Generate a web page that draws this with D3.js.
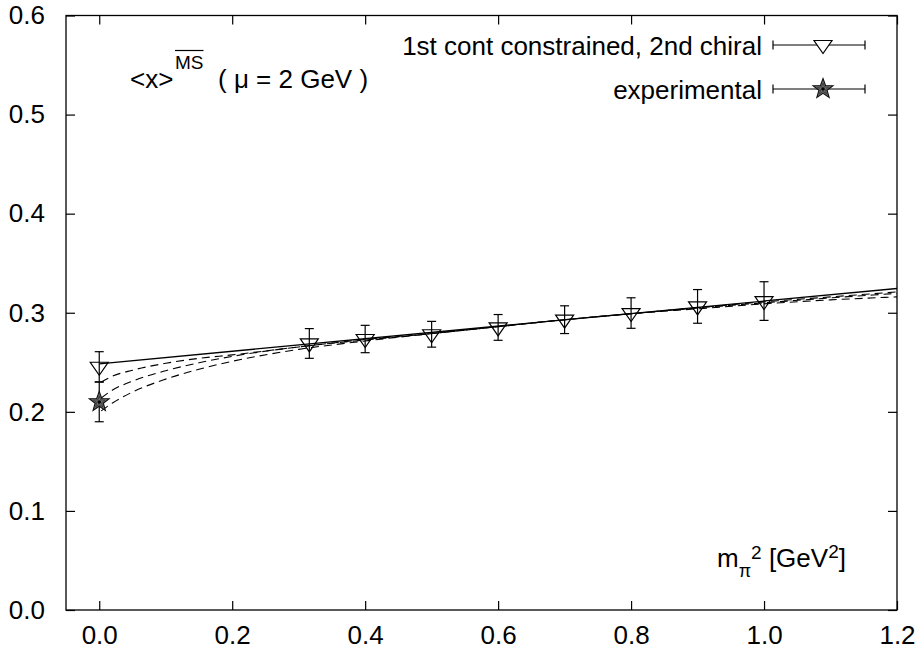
<!DOCTYPE html>
<html><head><meta charset="utf-8">
<script src="https://cdn.jsdelivr.net/npm/d3@7"></script>
<style>
body{margin:0;background:#fff;}
svg{display:block;font-family:"Liberation Sans",Arial,Helvetica,sans-serif;}
</style></head>
<body><svg id="c" width="919" height="650"></svg>
<script>
// ---- data ----
const xTicks = [0.0, 0.2, 0.4, 0.6, 0.8, 1.0, 1.2];
const yTicks = [0.0, 0.1, 0.2, 0.3, 0.4, 0.5, 0.6];
const latticeX   = [0.0, 0.316, 0.4, 0.5, 0.6, 0.7, 0.8, 0.9, 1.0];
const latticeY   = [0.2455, 0.269, 0.2735, 0.2783, 0.2852, 0.293, 0.2997, 0.3064, 0.3118];
const latticeErr = [0.0152, 0.015, 0.0138, 0.013, 0.013, 0.014, 0.0154, 0.017, 0.0195];
const expX = [0.0];
const expY = [0.210];
const expErr = [0.020];
const fitSolid = [[0.0, 0.2485], [1.2, 0.3245]];
const fitDash1 = [[0.003,0.230],[0.02,0.236],[0.05,0.242],[0.1,0.249],[0.15,0.254],[0.2,0.2575],[0.3,0.2655],[0.4,0.273],[0.5,0.279],[0.6,0.286],[0.7,0.293],[0.8,0.299],[0.9,0.305],[1.0,0.311],[1.1,0.316],[1.2,0.321]];
const fitDash2 = [[0.003,0.214],[0.02,0.222],[0.05,0.231],[0.1,0.2415],[0.15,0.2495],[0.2,0.256],[0.3,0.2655],[0.4,0.2725],[0.5,0.279],[0.6,0.286],[0.7,0.293],[0.8,0.299],[0.9,0.305],[1.0,0.310],[1.1,0.315],[1.2,0.3195]];
const fitDash3 = [[0.003,0.201],[0.02,0.209],[0.05,0.220],[0.1,0.233],[0.15,0.243],[0.2,0.251],[0.3,0.263],[0.4,0.2715],[0.5,0.279],[0.6,0.286],[0.7,0.293],[0.8,0.299],[0.9,0.304],[1.0,0.309],[1.1,0.313],[1.2,0.316]];
const legendLabels = ["1st cont constrained, 2nd chiral", "experimental"];

// ---- layout ----
const L = 66, R = 897, T = 15.5, B = 610;
const svg = d3.select("#c");
const x = d3.scaleLinear().domain([-0.05, 1.2]).range([L, R]);
const y = d3.scaleLinear().domain([0, 0.6]).range([B, T]);
const FS = 26;
const tickLen = 9;

// frame
svg.append("rect").attr("x", L).attr("y", T).attr("width", R - L).attr("height", B - T)
  .attr("fill", "none").attr("stroke", "#000").attr("stroke-width", 1.3);

// axes (inward ticks, mirrored)
const axB = d3.axisBottom(x).tickValues(xTicks).tickSizeInner(-tickLen).tickSizeOuter(0).tickFormat(d3.format(".1f")).tickPadding(16);
const axT = d3.axisTop(x).tickValues(xTicks).tickSizeInner(-tickLen).tickSizeOuter(0).tickFormat("");
const axL = d3.axisLeft(y).tickValues(yTicks).tickSizeInner(-tickLen).tickSizeOuter(0).tickFormat(d3.format(".1f")).tickPadding(21);
const axR = d3.axisRight(y).tickValues(yTicks).tickSizeInner(-tickLen).tickSizeOuter(0).tickFormat("");
function style(g){ g.select(".domain").remove(); g.selectAll("line").attr("stroke","#000").attr("stroke-width",1.2);
  g.selectAll("text").attr("font-size", FS).attr("fill","#000").attr("font-family","Liberation Sans, Arial, sans-serif"); }
svg.append("g").attr("transform", `translate(0,${B})`).call(axB).call(style);
svg.append("g").attr("transform", `translate(0,${T})`).call(axT).call(style);
svg.append("g").attr("transform", `translate(${L},0)`).call(axL).call(style);
svg.append("g").attr("transform", `translate(${R},0)`).call(axR).call(style);

// clip
svg.append("clipPath").attr("id","clip").append("rect").attr("x",L).attr("y",T).attr("width",R-L).attr("height",B-T);
const plot = svg.append("g").attr("clip-path","url(#clip)");

const line = d3.line().x(d => x(d[0])).y(d => y(d[1]));
const cline = d3.line().x(d => x(d[0])).y(d => y(d[1])).curve(d3.curveMonotoneX);
[fitDash1, fitDash2, fitDash3].forEach(c => {
  plot.append("path").attr("d", cline(c)).attr("fill","none").attr("stroke","#000")
    .attr("stroke-width",1.1).attr("stroke-dasharray","8,5");
});
plot.append("path").attr("d", line(fitSolid)).attr("fill","none").attr("stroke","#000").attr("stroke-width",1.3);

// markers
function triPath(cx, cy){ return `M${cx-9},${cy-4.5}L${cx+9},${cy-4.5}L${cx},${cy+8.5}Z`; }
function starPath(cx, cy, ro, ri){
  let p = "";
  for (let i = 0; i < 10; i++) {
    const r = i % 2 ? ri : ro;
    const a = -Math.PI/2 + i * Math.PI/5;
    p += (i ? "L" : "M") + (cx + r*Math.cos(a)).toFixed(2) + "," + (cy + r*Math.sin(a)).toFixed(2);
  }
  return p + "Z";
}
function drawStar(g, cx, cy){
  g.append("path").attr("d", starPath(cx, cy, 10.5, 4.3)).attr("fill","#6e6e6e").attr("stroke","#111").attr("stroke-width",1.1);
  g.append("path").attr("d", starPath(cx, cy, 6, 2.5)).attr("fill","none").attr("stroke","#333").attr("stroke-width",0.8);
  g.append("circle").attr("cx", cx).attr("cy", cy).attr("r", 1.8).attr("fill","#000");
}
function errBar(g, cx, y0, y1){
  g.append("line").attr("x1",cx).attr("x2",cx).attr("y1",y0).attr("y2",y1).attr("stroke","#000").attr("stroke-width",1.2);
  [y0, y1].forEach(yy => g.append("line").attr("x1",cx-4.5).attr("x2",cx+4.5).attr("y1",yy).attr("y2",yy).attr("stroke","#000").attr("stroke-width",1.2));
}
const pts = svg.append("g");
latticeX.forEach((xv, i) => {
  errBar(pts, x(xv), y(latticeY[i] - latticeErr[i]), y(latticeY[i] + latticeErr[i]));
});
expX.forEach((xv, i) => {
  errBar(pts, x(xv), y(expY[i] - expErr[i]), y(expY[i] + expErr[i]));
});
latticeX.forEach((xv, i) => {
  pts.append("path").attr("d", triPath(x(xv), y(latticeY[i]))).attr("fill","none").attr("stroke","#000").attr("stroke-width",1.2);
});
expX.forEach((xv, i) => drawStar(pts, x(xv), y(expY[i])));

// legend
const lg = svg.append("g");
const legY = [45, 89];
const sx0 = 773, sx1 = 865, smid = 823;
legendLabels.forEach((t, i) => {
  lg.append("text").attr("x", 762).attr("y", legY[i] + 9.5).attr("text-anchor","end")
    .attr("font-size", FS).text(t);
  lg.append("line").attr("x1",sx0).attr("x2",sx1).attr("y1",legY[i]).attr("y2",legY[i]).attr("stroke","#000").attr("stroke-width",1.2);
  [sx0, sx1].forEach(xx => lg.append("line").attr("x1",xx).attr("x2",xx).attr("y1",legY[i]-4.5).attr("y2",legY[i]+4.5).attr("stroke","#000").attr("stroke-width",1.2));
});
lg.append("path").attr("d", triPath(smid, legY[0])).attr("fill","#fff").attr("stroke","#000").attr("stroke-width",1.2);
drawStar(lg, smid, legY[1]);

// title label: <x>^{MS-bar} ( mu = 2 GeV )
const tl = svg.append("g");
tl.append("text").attr("x", 130).attr("y", 88).attr("font-size", FS).text("<x>");
const sup = tl.append("text").attr("x", 175).attr("y", 68.5).attr("font-size", 19).text("MS");
const supW = sup.node().getComputedTextLength();
tl.append("line").attr("x1", 175).attr("x2", 175 + supW).attr("y1", 50.5).attr("y2", 50.5).attr("stroke","#000").attr("stroke-width",1.2);
tl.append("text").attr("x", 218).attr("y", 88).attr("font-size", FS).text("( μ = 2 GeV )");

// x axis label
const xl = svg.append("text").attr("x", 717).attr("y", 567).attr("font-size", FS);
xl.append("tspan").text("m");
xl.append("tspan").attr("font-size", 18).attr("dy", 10).text("π");
xl.append("tspan").attr("font-size", 19).attr("dy", -18).text("2");
xl.append("tspan").attr("dy", 8).text(" [GeV");
xl.append("tspan").attr("font-size", 19).attr("dy", -9).text("2");
xl.append("tspan").attr("dy", 9).text("]");
</script></body></html>
